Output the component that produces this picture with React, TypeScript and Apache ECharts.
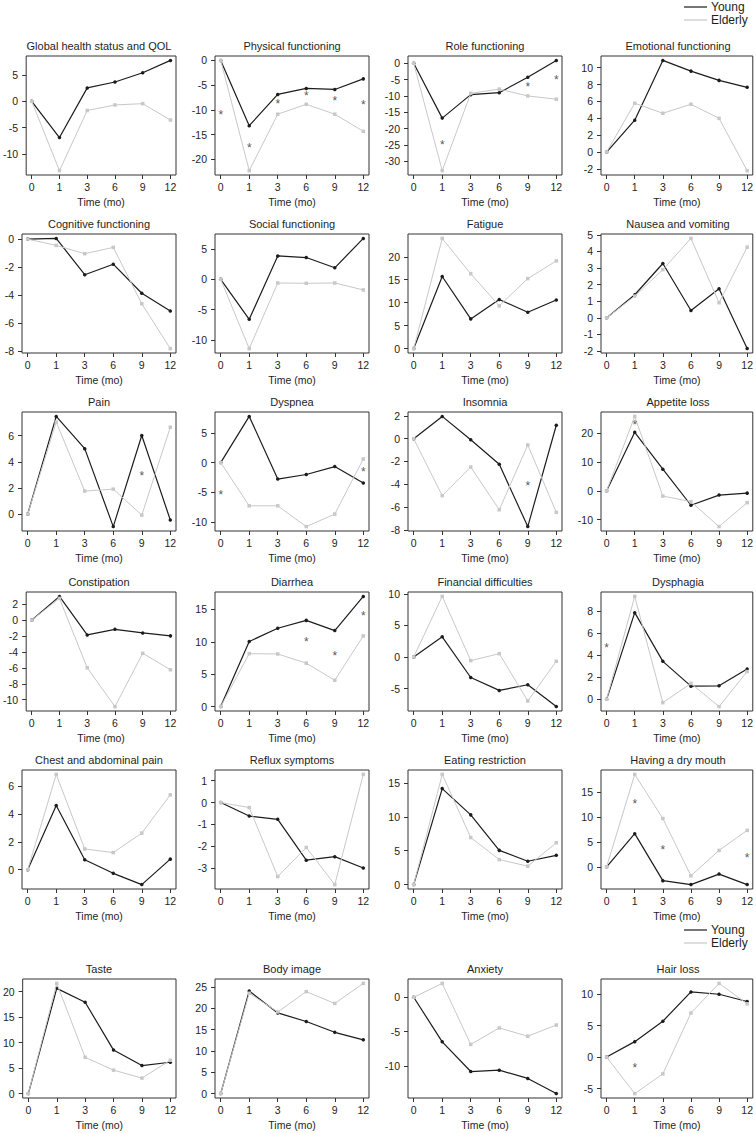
import React, { useEffect, useRef } from "react";
import * as echarts from "echarts";

const timeLabels = ["0", "1", "3", "6", "9", "12"];

const titles = [
  "Global health status and QOL", "Physical functioning", "Role functioning", "Emotional functioning",
  "Cognitive functioning", "Social functioning", "Fatigue", "Nausea and vomiting",
  "Pain", "Dyspnea", "Insomnia", "Appetite loss",
  "Constipation", "Diarrhea", "Financial difficulties", "Dysphagia",
  "Chest and abdominal pain", "Reflux symptoms", "Eating restriction", "Having a dry mouth",
  "Taste", "Body image", "Anxiety", "Hair loss",
];

const young: number[][] = [
  [0, -6.9, 2.56, 3.69, 5.44, 7.8],
  [0, -13.2, -6.87, -5.67, -5.87, -3.73],
  [0, -16.8, -9.6, -9.0, -4.25, 0.9],
  [0, 3.78, 10.87, 9.6, 8.5, 7.68],
  [0, 0.05, -2.54, -1.79, -3.86, -5.13],
  [0, -6.58, 3.86, 3.59, 1.9, 6.74],
  [0, 15.7, 6.47, 10.7, 7.9, 10.6],
  [0, 1.39, 3.27, 0.44, 1.75, -1.85],
  [0, 7.48, 5.01, -0.96, 6.02, -0.45],
  [0, 7.78, -2.78, -2.0, -0.67, -3.44],
  [0, 1.96, -0.09, -2.25, -7.72, 1.18],
  [0, 20.3, 7.5, -5.0, -1.48, -0.8],
  [0, 2.98, -1.86, -1.16, -1.61, -1.98],
  [0, 10.05, 12.08, 13.3, 11.73, 17.0],
  [0, 3.19, -3.25, -5.29, -4.4, -7.85],
  [0, 7.89, 3.46, 1.2, 1.23, 2.77],
  [0, 4.62, 0.71, -0.26, -1.07, 0.76],
  [0, -0.62, -0.77, -2.64, -2.48, -3.0],
  [0, 14.17, 10.29, 5.05, 3.45, 4.32],
  [0, 6.64, -2.76, -3.55, -1.45, -3.55],
  [0, 20.65, 17.93, 8.54, 5.5, 6.15],
  [0, 24.08, 18.92, 16.92, 14.38, 12.62],
  [0, -6.46, -10.77, -10.57, -11.77, -13.97],
  [0, 2.46, 5.71, 10.37, 10.0, 8.85],
];

const elderly: number[][] = [
  [0, -13.2, -1.75, -0.69, -0.44, -3.56],
  [0, -22.27, -10.87, -8.87, -10.87, -14.33],
  [0, -32.9, -9.2, -7.9, -10.0, -11.0],
  [0, 5.79, 4.6, 5.67, 4.0, -2.2],
  [0, -0.45, -1.04, -0.59, -4.61, -7.81],
  [0, -11.4, -0.6, -0.65, -0.6, -1.74],
  [0, 24.0, 16.3, 9.3, 15.25, 19.1],
  [0, 1.31, 2.9, 4.78, 0.91, 4.25],
  [0, 7.05, 1.76, 1.91, -0.08, 6.65],
  [0, -7.28, -7.28, -10.78, -8.67, 0.61],
  [0, -5.0, -2.49, -6.24, -0.55, -6.47],
  [0, 25.8, -1.82, -3.75, -12.4, -4.1],
  [0, 2.73, -5.99, -10.87, -4.17, -6.24],
  [0, 8.17, 8.12, 6.7, 4.06, 10.9],
  [0, 9.58, -0.58, 0.52, -6.96, -0.68],
  [0, 9.37, -0.3, 1.45, -0.66, 2.53],
  [0, 6.85, 1.49, 1.23, 2.63, 5.38],
  [0, -0.23, -3.39, -2.06, -3.76, 1.29],
  [0, 16.26, 6.94, 3.69, 2.72, 6.17],
  [0, 18.49, 9.67, -1.78, 3.29, 7.3],
  [0, 21.62, 7.12, 4.6, 3.04, 6.54],
  [0, 23.54, 19.15, 23.92, 21.15, 25.85],
  [0, 2.01, -6.84, -4.45, -5.65, -4.02],
  [0, -5.81, -2.67, 7.02, 11.73, 8.48],
];

// y-axis tick step per panel
const yStep = [5, 5, 5, 2, 2, 5, 5, 1, 2, 5, 2, 10, 2, 5, 5, 2, 2, 1, 5, 5, 5, 5, 5, 5];

// significance markers: [time index, y value]
const stars: number[][][] = [
  [],
  [[0, -11.1], [1, -17.8], [2, -8.9], [3, -7.2], [4, -8.3], [5, -9.07]],
  [[1, -24.9], [4, -7.3], [5, -5.1]],
  [], [], [], [], [],
  [[4, 2.92]],
  [[0, -5.44], [5, -1.5]],
  [[4, -4.13]],
  [[1, 22.95]],
  [],
  [[3, 9.95], [4, 7.82], [5, 14.0]],
  [],
  [[0, 4.64]],
  [], [], [],
  [[1, 12.57], [2, 3.36], [5, 1.78]],
  [], [], [],
  [[1, -1.78]],
];

const FONT = "'Liberation Sans', Arial, Helvetica, sans-serif";
const COL_LEFT = [22, 215, 408, 601];
const ROW_TOP = [56, 234, 412, 592, 770, 979];
const W = 154;
const H = 119;
const YOUNG_COLOR = "#1c1c1c";
const ELDERLY_COLOR = "#c8c8c8";
const AXIS_COLOR = "#333";
const TEXT_COLOR = "#1e1e1e";

function buildOption() {
  const grid: any[] = [];
  const xAxis: any[] = [];
  const yAxis: any[] = [];
  const series: any[] = [];
  const title: any[] = [];

  titles.forEach((t, i) => {
    const r = Math.floor(i / 4);
    const c = i % 4;
    const left = COL_LEFT[c];
    const top = ROW_TOP[r];
    grid.push({ left, top, width: W, height: H, show: true, borderColor: AXIS_COLOR, borderWidth: 1, backgroundColor: "transparent" });
    title.push({
      text: t, left: left + W / 2, top: top - 16, textAlign: "center", padding: 0,
      textStyle: { fontSize: 11, fontWeight: "normal", color: TEXT_COLOR, fontFamily: FONT },
    });
    const all = [...young[i], ...elderly[i]];
    const lo = Math.min(...all);
    const hi = Math.max(...all);
    const pad = (hi - lo) * 0.04;
    const ymin = lo - pad;
    const ymax = hi + pad;
    const step = yStep[i];
    const ticks: number[] = [];
    for (let v = Math.ceil(ymin / step) * step; v <= ymax + 1e-9; v += step) ticks.push(v === 0 ? 0 : v);
    const xTicks = timeLabels.map((_, k) => k);
    xAxis.push({
      gridIndex: i, type: "value", min: -0.2, max: 5.2,
      axisLine: { show: false, onZero: false }, splitLine: { show: false },
      axisTick: { show: true, length: 4, customValues: xTicks, lineStyle: { color: AXIS_COLOR } },
      axisLabel: {
        customValues: xTicks, margin: 6, fontSize: 10.5, color: TEXT_COLOR, fontFamily: FONT,
        formatter: (v: number) => timeLabels[Math.round(v)],
      },
      name: "Time (mo)", nameLocation: "middle", nameGap: 21,
      nameTextStyle: { fontSize: 10.5, color: TEXT_COLOR, fontFamily: FONT },
    });
    yAxis.push({
      gridIndex: i, type: "value", min: ymin, max: ymax,
      axisLine: { show: false, onZero: false }, splitLine: { show: false },
      axisTick: { show: true, length: 4, customValues: ticks, lineStyle: { color: AXIS_COLOR } },
      axisLabel: {
        customValues: ticks, margin: 8, fontSize: 10.5, color: TEXT_COLOR, fontFamily: FONT,
        formatter: (v: number) => String(Math.round(v) === 0 ? 0 : Math.round(v)),
      },
    });
    series.push({
      type: "line", name: "Young", xAxisIndex: i, yAxisIndex: i,
      data: young[i].map((v, k) => [k, v]),
      symbol: "circle", symbolSize: 3.5, showSymbol: true, color: YOUNG_COLOR,
      itemStyle: { color: YOUNG_COLOR }, lineStyle: { color: YOUNG_COLOR, width: 1.2 }, z: 3,
    });
    series.push({
      type: "line", name: "Elderly", xAxisIndex: i, yAxisIndex: i,
      data: elderly[i].map((v, k) => [k, v]),
      symbol: "rect", symbolSize: 3.5, showSymbol: true, color: ELDERLY_COLOR,
      itemStyle: { color: ELDERLY_COLOR }, lineStyle: { color: ELDERLY_COLOR, width: 1 }, z: 4,
    });
    if (stars[i].length) {
      series.push({
        type: "scatter", name: "sig", xAxisIndex: i, yAxisIndex: i, silent: true,
        data: stars[i], symbol: "circle", symbolSize: 2, itemStyle: { color: "rgba(0,0,0,0)" },
        label: {
          show: true, position: "inside", formatter: "*", fontSize: 12, color: "#2a2a2a",
          fontFamily: FONT, offset: [0, 3.5],
        },
        labelLayout: { hideOverlap: false },
        z: 5,
      });
    }
  });

  const legendBase = {
    data: ["Young", "Elderly"], orient: "vertical", left: 684, icon: "rect",
    itemWidth: 23, itemHeight: 1.2, itemGap: 1, padding: 0, selectedMode: false,
    textStyle: { fontSize: 12, color: TEXT_COLOR, fontFamily: FONT, padding: [0, 0, 0, -1] },
  };

  return {
    animation: false,
    backgroundColor: "#ffffff",
    title,
    legend: [{ ...legendBase, top: 1 }, { ...legendBase, top: 924 }],
    grid, xAxis, yAxis, series,
  };
}

export default function App() {
  const ref = useRef<HTMLDivElement>(null);
  useEffect(() => {
    if (!ref.current) return;
    const chart = echarts.init(ref.current, undefined, { renderer: "svg" });
    chart.setOption(buildOption() as any);
    return () => chart.dispose();
  }, []);
  return (
    <div
      ref={ref}
      style={{ position: "fixed", left: 0, top: 0, width: 756, height: 1133, background: "#fff" }}
    />
  );
}
